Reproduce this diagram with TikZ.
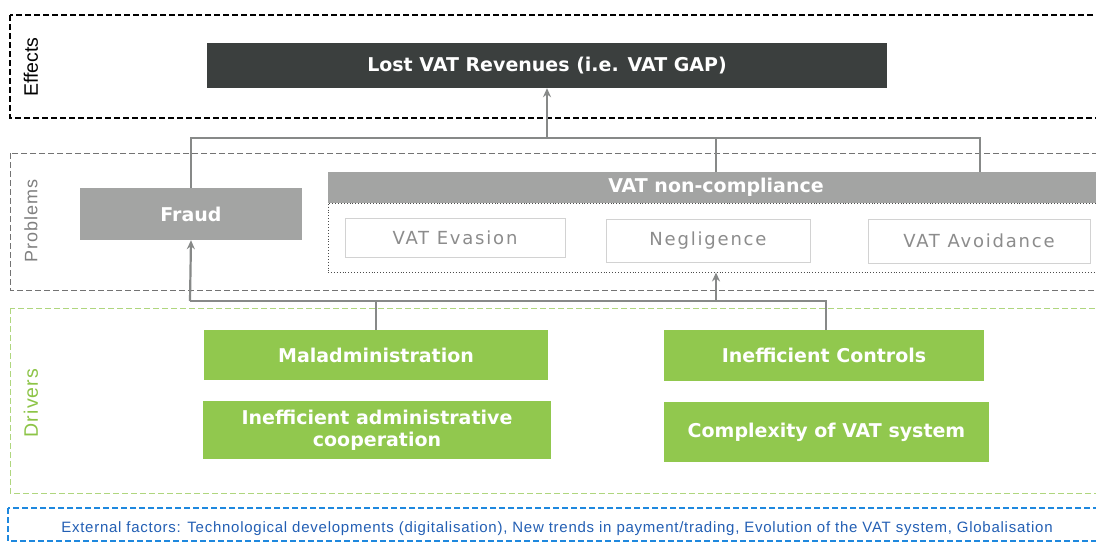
\documentclass[tikz,border=0pt]{standalone}
\usepackage{fontspec}
\setmainfont{DejaVu Sans}
\newfontfamily\arialf{Liberation Sans}
\newfontfamily\arialsp[LetterSpace=6]{Liberation Sans}
\newfontfamily\arialext[LetterSpace=5]{Liberation Sans}
\newfontfamily\dejasp[LetterSpace=10]{DejaVu Sans}
\usetikzlibrary{arrows.meta}
\definecolor{effdark}{RGB}{59,63,62}
\definecolor{probgray}{RGB}{163,164,163}
\definecolor{drvgreen}{RGB}{145,200,78}
\definecolor{lblgreen}{RGB}{140,196,70}
\definecolor{linegray}{RGB}{135,137,136}
\definecolor{subborder}{RGB}{210,210,210}
\definecolor{subtext}{RGB}{140,140,140}
\definecolor{extblue}{RGB}{30,136,222}
\definecolor{exttext}{RGB}{35,95,180}
\tikzset{
  fillbox/.style={draw=none, inner sep=0pt, text=white, font=\bfseries\fontsize{19}{22}\selectfont, align=center},
  effbox/.style={fillbox, fill=effdark},
  probbox/.style={fillbox, fill=probgray},
  drvbox/.style={fillbox, fill=drvgreen},
  subbox/.style={draw=subborder, line width=0.8pt, inner sep=0pt, text=subtext, font=\dejasp\fontsize{18}{21}\selectfont},
  section/.style={line width=1.4pt, dash pattern=on 6pt off 3pt},
  sidelabel/.style={rotate=90, font=\arialf\fontsize{19.5}{22}\selectfont},
  link/.style={draw=linegray, line width=2.2pt},
  linkarrow/.style={link, -{Stealth[length=9pt,width=8pt]}},
}
\begin{document}
\begin{tikzpicture}[x=1pt,y=-1pt]
\useasboundingbox[fill=white] (0,0) rectangle (1096,547);
\clip (0,0) rectangle (1096,547);

% section frames
\draw[section, draw=black] (10,15) rectangle (1110,118);
\draw[section, draw=gray!90!black, line width=1pt] (10,153) rectangle (1110,290);
\draw[section, draw=lblgreen!70, line width=1pt] (10,308) rectangle (1110,493);
\draw[section, draw=extblue] (8,508) rectangle (1110,541);

% section labels
\node[sidelabel, text=black] (leffects) at (31,67) {Effects};
\node[sidelabel, text=gray, font=\arialsp\fontsize{18}{21}\selectfont] (lproblems) at (31,221) {Problems};
\node[sidelabel, text=lblgreen, font=\arialsp\fontsize{19.5}{22}\selectfont] (ldrivers) at (31,403) {Drivers};

% effects
\node[effbox, minimum width=680pt, minimum height=45pt] (lost) at (547,65.5) {Lost VAT Revenues (i.e. VAT GAP)};

% problems
\node[probbox, minimum width=222pt, minimum height=52pt] (fraud) at (191,214) {Fraud};
\node[probbox, minimum width=776pt, minimum height=31pt] (ncbar) at (716,187.5) {VAT non-compliance};
\node[draw=black!70, dotted, line width=0.9pt, minimum width=780pt, minimum height=69pt, inner sep=0pt] (ncbox) at (718,237.5) {};
\node[subbox, minimum width=220pt, minimum height=39pt] (evasion) at (455,237.5) {VAT Evasion};
\node[subbox, minimum width=204pt, minimum height=43pt] (neglig) at (708,240.5) {Negligence};
\node[subbox, minimum width=222pt, minimum height=44pt] (avoid) at (979,241) {VAT Avoidance};

% drivers
\node[drvbox, minimum width=344pt, minimum height=50pt] (maladmin) at (376,355) {Maladministration};
\node[drvbox, minimum width=348pt, minimum height=58pt] (coop) at (377,430) {Inefficient administrative\\cooperation};
\node[drvbox, minimum width=320pt, minimum height=51pt] (controls) at (824,355.5) {Inefficient Controls};
\node[drvbox, minimum width=325pt, minimum height=60pt] (complex) at (826.5,432) {Complexity of VAT system};

% external factors
\node[font=\arialext\fontsize{15}{18}\selectfont, text=exttext] (ext) at (557,529) {External factors: Technological developments (digitalisation), New trends in payment/trading, Evolution of the VAT system, Globalisation};

% upper bus: problems -> effects
\coordinate (topmid) at (547,138);
\coordinate (topnc) at (716,138);
\coordinate (topright) at (980,138);
\draw[link] (fraud.north) |- (topright) -- (topright |- ncbar.north);
\draw[link] (topnc) -- (topnc |- ncbar.north);
\draw[linkarrow] (topmid) -- (lost.south);

% lower bus: drivers -> problems
\coordinate (botleft) at (190,301);
\coordinate (botnc) at (716,301);
\coordinate (botright) at (826,301);
\draw[link] (botleft) -- (botright) -- (botright |- controls.north);
\draw[link] (maladmin.north) -- (maladmin.north |- botleft);
\draw[linkarrow] (botleft) -- (fraud.south);
\draw[linkarrow] (botnc) -- (botnc |- ncbox.south);
\end{tikzpicture}
\end{document}
